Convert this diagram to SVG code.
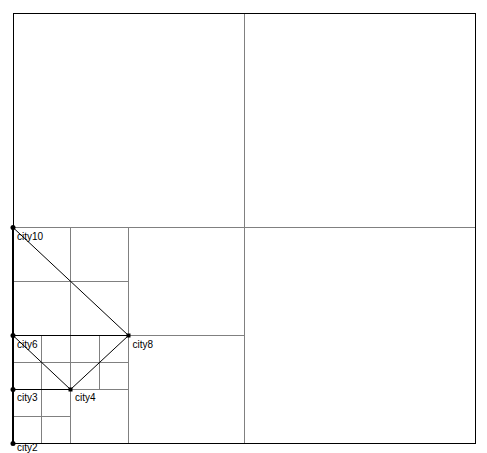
<svg xmlns="http://www.w3.org/2000/svg" width="487" height="453" viewBox="0 0 487 453">
<style>
.g{stroke:#808080;stroke-width:1;fill:none}
.e{stroke:#000;stroke-width:1;fill:none}
.t{stroke:#000;stroke-width:2;fill:none}
.d{fill:#000}
.l{font-family:"Liberation Sans",Arial,sans-serif;font-size:10px;fill:#000}
</style>
<rect width="487" height="453" fill="#fff"/>
<g id="grid">
<line class="g" x1="244.5" y1="13" x2="244.5" y2="444"/>
<line class="g" x1="13" y1="227.5" x2="476" y2="227.5"/>
<line class="g" x1="13" y1="335.5" x2="244.5" y2="335.5"/>
<line class="g" x1="128.5" y1="227.5" x2="128.5" y2="443.5"/>
<line class="g" x1="70.5" y1="227.5" x2="70.5" y2="443.5"/>
<line class="g" x1="13" y1="281.5" x2="128.5" y2="281.5"/>
<line class="g" x1="13" y1="389.5" x2="128.5" y2="389.5"/>
<line class="g" x1="13" y1="362.5" x2="128.5" y2="362.5"/>
<line class="g" x1="41.5" y1="335.5" x2="41.5" y2="443.5"/>
<line class="g" x1="99.5" y1="335.5" x2="99.5" y2="389.5"/>
<line class="g" x1="13" y1="416.5" x2="70.5" y2="416.5"/>
<rect x="13.5" y="13.5" width="462" height="430" fill="none" stroke="#000" stroke-width="1"/>
</g>
<g id="connectors">
<line class="t" x1="13" y1="227" x2="13" y2="443.5"/>
<line class="e" x1="13" y1="227.5" x2="128.5" y2="335.5"/>
<line class="e" x1="13" y1="335.5" x2="128.5" y2="335.5"/>
<line class="e" x1="13" y1="335.5" x2="70.5" y2="389.5"/>
<line class="e" x1="70.5" y1="389.5" x2="128.5" y2="335.5"/>
<line class="e" x1="13" y1="389.5" x2="70.5" y2="389.5"/>
</g>
<g id="city10"><circle class="d" cx="13" cy="227.5" r="2.5"/><text class="l" x="17" y="240">city10</text></g>
<g id="city6"><circle class="d" cx="13" cy="335.5" r="2.5"/><text class="l" x="17" y="348">city6</text></g>
<g id="city8"><rect class="d" x="126.5" y="333.5" width="4" height="4"/><text class="l" x="132.5" y="348">city8</text></g>
<g id="city3"><circle class="d" cx="13" cy="389.5" r="2.5"/><text class="l" x="17" y="401">city3</text></g>
<g id="city4"><rect class="d" x="68.5" y="387.5" width="4" height="4"/><text class="l" x="75" y="401">city4</text></g>
<g id="city2"><circle class="d" cx="13" cy="443.5" r="2.5"/><text class="l" x="17" y="450.5">city2</text></g>
</svg>
